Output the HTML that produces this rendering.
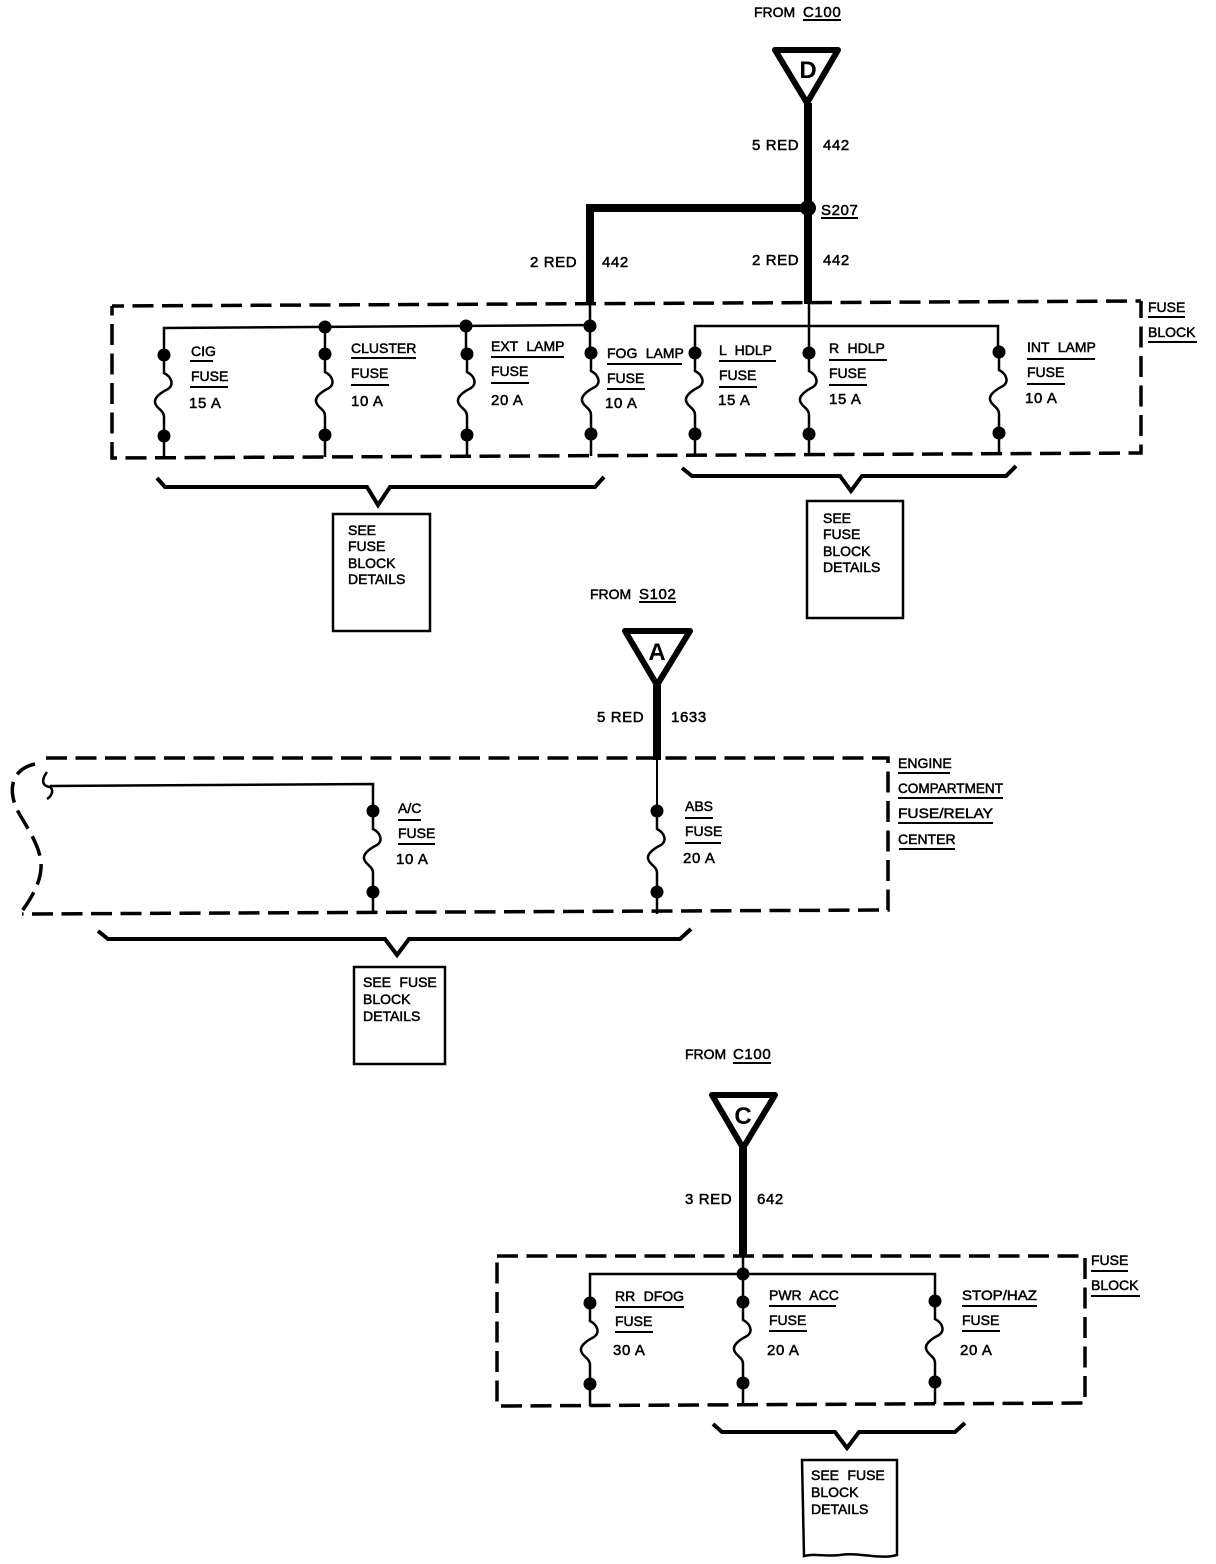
<!DOCTYPE html>
<html><head><meta charset="utf-8"><style>
html,body{margin:0;padding:0;background:#fff}
svg{display:block}
text{font-family:"Liberation Sans",sans-serif;font-size:15px;fill:#000;font-weight:normal;stroke:#000;stroke-width:.5px;letter-spacing:.6px}
.l{font-size:14px;letter-spacing:0;word-spacing:4.5px}
.k{font-size:24px;font-weight:bold;text-anchor:middle;letter-spacing:0;stroke-width:0}
</style></head><body>
<svg width="1216" height="1564" viewBox="0 0 1216 1564" xmlns="http://www.w3.org/2000/svg">
<defs>
<g id="f"><circle cx="0" cy="0" r="6.5" fill="#000"/><circle cx="0" cy="81" r="6.5" fill="#000"/>
<path d="M0 0V18C8 22 10 30 4 34C-4 38 -12 44 -8 50C-6 54 0 56 0 62V103" fill="none" stroke="#000" stroke-width="2.5"/></g>
</defs>
<g fill="none" stroke="#000">
<!-- top -->
<path d="M775 50H838L807 103Z" stroke-width="6" stroke-linejoin="round" fill="#fff"/>
<path d="M808 103V304" stroke-width="8"/>
<path d="M808 208H590V304" stroke-width="8"/>
<path d="M112 306L1141 301" stroke-width="3.5" stroke-dasharray="21 8.5" stroke-dashoffset="9"/>
<path d="M1141 301V453L112 458V306" stroke-width="3.5" stroke-dasharray="21 8.5" stroke-dashoffset="4"/>
<path d="M164 355V328L590 325M590 304V353M695 353V326H998V352M809 304V353M325 327V354M466 326V354" stroke-width="2.5"/>
<path d="M157 478L165 487H367L378 505L390 487H595L604 477" stroke-width="4"/>
<path d="M682 468L692 476H840L851 491L862 476H1006L1016 466" stroke-width="4"/>
<rect x="333" y="514" width="97" height="117" stroke-width="2.5"/>
<rect x="807" y="501" width="96" height="117" stroke-width="2.5"/>
<!-- middle -->
<path d="M625 631H690L657 685Z" stroke-width="6" stroke-linejoin="round" fill="#fff"/>
<path d="M657 685V760" stroke-width="8"/>
<path d="M657 760V811" stroke-width="2"/>
<path d="M35 764C8 770 8 795 20 815C30 832 42 850 41 868C40 885 30 900 20 914" stroke-width="3.5" stroke-dasharray="21 8.5"/>
<path d="M46 758H888V910L22 914" stroke-width="3.5" stroke-dasharray="21 8.5"/>
<path d="M47 772C41 780 42 786 50 787C54 790 52 796 47 799M50 786L373 784V811" stroke-width="2.5"/>
<path d="M98 931L108 939H385L397 955L409 939H680L691 929" stroke-width="4"/>
<rect x="354" y="967" width="91" height="97" stroke-width="2.5"/>
<!-- bottom -->
<path d="M712 1095H775L743 1148Z" stroke-width="6" stroke-linejoin="round" fill="#fff"/>
<path d="M743 1148V1256" stroke-width="8"/>
<path d="M497 1256H1085V1403L497 1406V1256" stroke-width="3.5" stroke-dasharray="21 8.5"/>
<path d="M590 1303V1274H935V1301M743 1256V1302" stroke-width="2.5"/>
<path d="M713 1424L722 1432H835L847 1448L859 1432H955L965 1423" stroke-width="4"/>
<path d="M802 1460H897V1555C880 1560 860 1552 840 1555C825 1557 815 1553 804 1556L802 1460Z" stroke-width="2.5"/>
<!-- underlines -->
<path stroke-width="2" d="M803 20H841M821 218H858M1148 317H1185M1148 342H1197
M190 361H213M190 387H228M351 358H416M351 385H389M491 357H564M491 383H529
M607 364H682M607 389H645M719 361H776M719 387H757M829 360H887M829 385H867M1027 359H1095M1027 384H1065
M639 602H676M898 773H950M898 798H1003M898 823H993M899 849H955
M398 820H421M398 844H435M685 818H713M685 843H721
M733 1063H771M1091 1271H1128M1091 1296H1140
M615 1307H684M615 1332H653M769 1306H836M769 1331H807M962 1306H1037M962 1331H1000"/>
</g>
<circle cx="808" cy="208" r="8" fill="#000"/>
<circle cx="325" cy="327" r="6.5" fill="#000"/><circle cx="466" cy="326" r="6.5" fill="#000"/><circle cx="590" cy="326" r="6.5" fill="#000"/>
<circle cx="743" cy="1274" r="6.5" fill="#000"/>
<use href="#f" x="164" y="355"/><use href="#f" x="325" y="354"/><use href="#f" x="467" y="354"/><use href="#f" x="591" y="353"/>
<use href="#f" x="695" y="353"/><use href="#f" x="809" y="353"/><use href="#f" x="999" y="352"/>
<use href="#f" x="373" y="811"/><use href="#f" x="657" y="811"/>
<use href="#f" x="590" y="1303"/><use href="#f" x="743" y="1302"/><use href="#f" x="935" y="1301"/>
<text class="k" x="808" y="78">D</text><text class="k" x="657" y="660">A</text><text class="k" x="743" y="1124">C</text>
<text class="l" x="754" y="17">FROM</text><text x="803" y="17">C100</text>
<g transform="translate(0,-1)">
<text x="752" y="151">5 RED</text><text x="823" y="151">442</text><text x="821" y="216">S207</text>
<text x="530" y="268">2 RED</text><text x="602" y="268">442</text><text x="752" y="266">2 RED</text><text x="823" y="266">442</text>
<text class="l" x="1148" y="313">FUSE</text><text class="l" x="1148" y="338">BLOCK</text>
<text class="l" x="191" y="357">CIG</text><text class="l" x="191" y="382">FUSE</text><text x="189" y="409">15 A</text>
<text class="l" x="351" y="354">CLUSTER</text><text class="l" x="351" y="379">FUSE</text><text x="351" y="407">10 A</text>
<text class="l" x="491" y="352">EXT LAMP</text><text class="l" x="491" y="377">FUSE</text><text x="491" y="406">20 A</text>
<text class="l" x="607" y="359">FOG LAMP</text><text class="l" x="607" y="384">FUSE</text><text x="605" y="409">10 A</text>
<text class="l" x="719" y="356">L HDLP</text><text class="l" x="719" y="381">FUSE</text><text x="718" y="406">15 A</text>
<text class="l" x="829" y="354">R HDLP</text><text class="l" x="829" y="379">FUSE</text><text x="829" y="405">15 A</text>
<text class="l" x="1027" y="353">INT LAMP</text><text class="l" x="1027" y="378">FUSE</text><text x="1025" y="404">10 A</text>
<text class="l" x="348" y="536">SEE</text><text class="l" x="348" y="552">FUSE</text><text class="l" x="348" y="569">BLOCK</text><text class="l" x="348" y="585">DETAILS</text>
<text class="l" x="823" y="524">SEE</text><text class="l" x="823" y="540">FUSE</text><text class="l" x="823" y="557">BLOCK</text><text class="l" x="823" y="573">DETAILS</text>
<text x="597" y="723">5 RED</text><text x="671" y="723">1633</text>
<text class="l" x="898" y="769">ENGINE</text><text class="l" x="898" y="794" textLength="105" lengthAdjust="spacingAndGlyphs">COMPARTMENT</text><text class="l" x="898" y="819" textLength="95" lengthAdjust="spacingAndGlyphs">FUSE/RELAY</text><text class="l" x="898" y="845">CENTER</text>
<text class="l" x="398" y="814">A/C</text><text class="l" x="398" y="839">FUSE</text><text x="396" y="865">10 A</text>
<text class="l" x="685" y="812">ABS</text><text class="l" x="685" y="837">FUSE</text><text x="683" y="864">20 A</text>
<text class="l" x="363" y="988">SEE FUSE</text><text class="l" x="363" y="1005">BLOCK</text><text class="l" x="363" y="1022">DETAILS</text>
<text x="685" y="1205">3 RED</text><text x="757" y="1205">642</text>
<text class="l" x="1091" y="1266">FUSE</text><text class="l" x="1091" y="1291">BLOCK</text>
<text class="l" x="615" y="1302">RR DFOG</text><text class="l" x="615" y="1327">FUSE</text><text x="613" y="1356">30 A</text>
<text class="l" x="769" y="1301">PWR ACC</text><text class="l" x="769" y="1326">FUSE</text><text x="767" y="1356">20 A</text>
<text class="l" x="962" y="1301" textLength="75" lengthAdjust="spacingAndGlyphs">STOP/HAZ</text><text class="l" x="962" y="1326">FUSE</text><text x="960" y="1356">20 A</text>
<text class="l" x="811" y="1481">SEE FUSE</text><text class="l" x="811" y="1498">BLOCK</text><text class="l" x="811" y="1515">DETAILS</text>
</g>
<text class="l" x="590" y="599">FROM</text><text x="639" y="599">S102</text>
<text class="l" x="685" y="1059">FROM</text><text x="733" y="1059">C100</text>
</svg>
</body></html>
